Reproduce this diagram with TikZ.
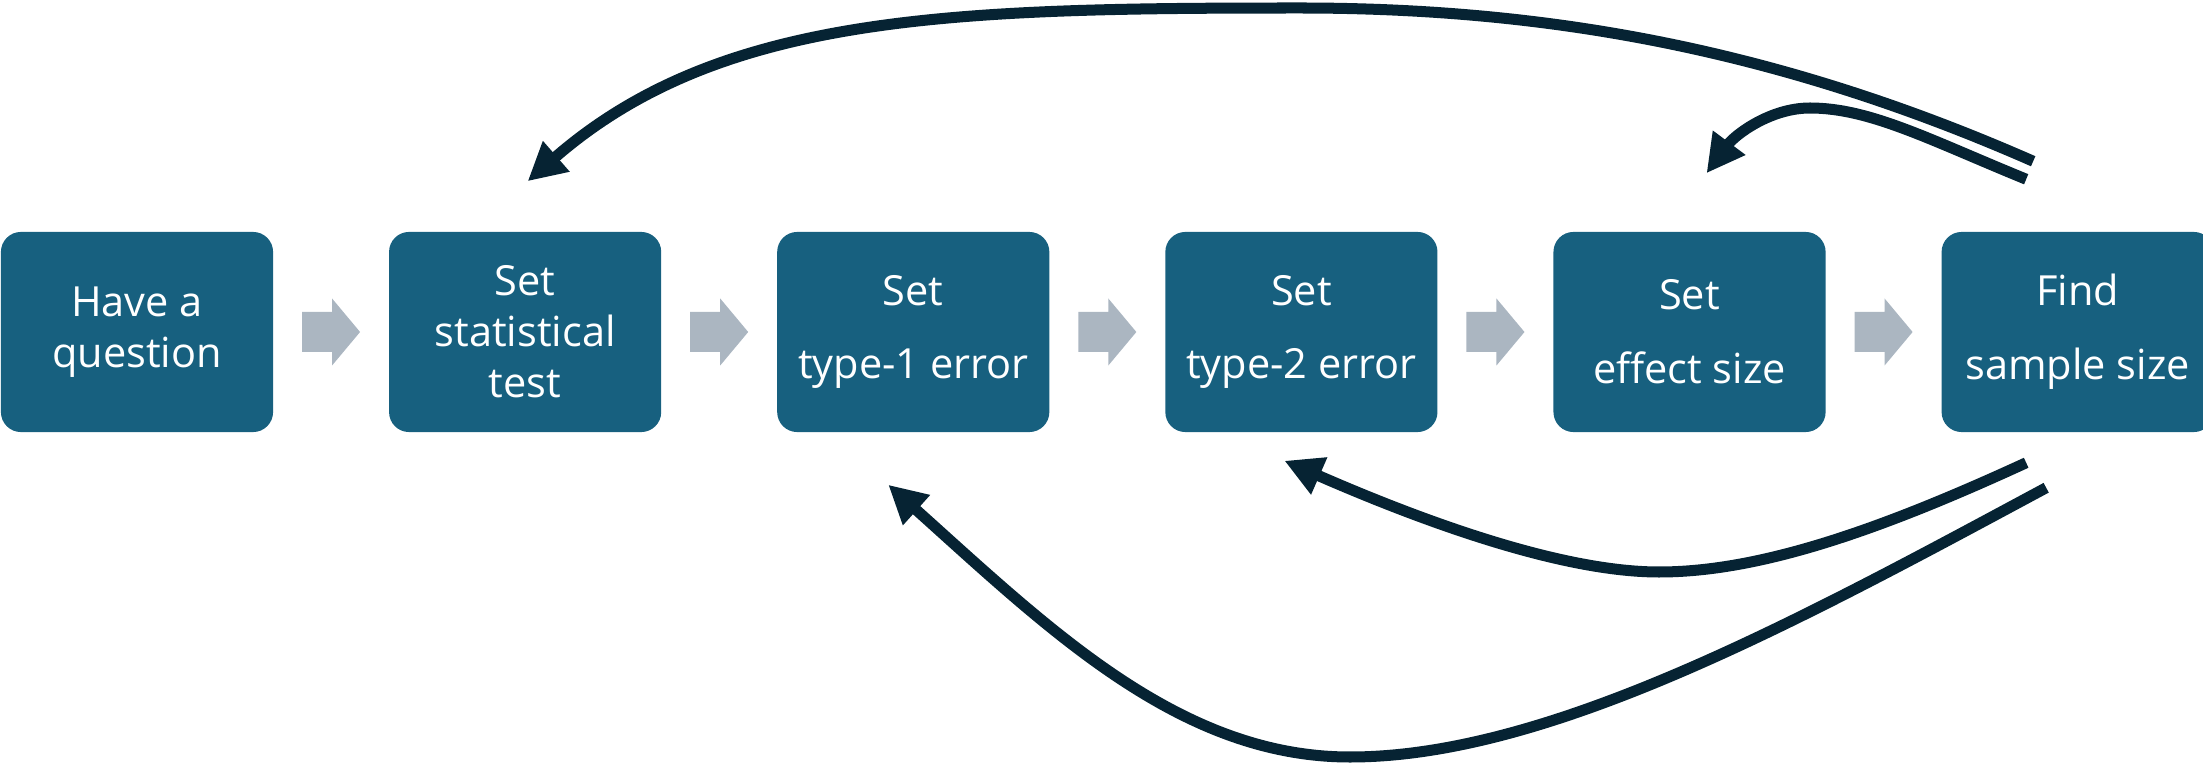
\documentclass[tikz,border=0pt]{standalone}
\usepackage{fontspec}
\setmainfont{Open Sans}
\usepackage{tikz}
\usetikzlibrary{positioning,calc,arrows.meta}

\definecolor{boxblue}{HTML}{17607F}
\definecolor{loopnavy}{HTML}{062333}
\definecolor{chevgray}{HTML}{ABB6C1}

\tikzset{
    stage/.style={rectangle, rounded corners=0.2cm, fill=boxblue, text=white, align=center,
        minimum width=2.72cm, minimum height=2cm, inner sep=0pt,
        font=\fontsize{11.8}{14.5}\selectfont},
    feedback/.style={draw=loopnavy, line width=0.11cm, -{Triangle[length=0.38cm,width=0.38cm]}},
    chevron/.style={fill=chevgray}
}

% grey block arrow in the gap between two stages
\newcommand{\gapArrow}[2]{\fill[chevron] ($(#1.east)!0.5!(#2.west)$) ++(-29,-20) -- ++(30,0) -- ++(0,-13.5) -- ++(28,33.5) -- ++(-28,33.5) -- ++(0,-13.5) -- ++(-30,0) -- cycle;}

\begin{document}
\begin{tikzpicture}[x=0.01cm, y=-0.01cm]
    \useasboundingbox (0,0) rectangle (2203,764);

    \node [stage] (question) at (137,332) {Have a\\question};
    \node [stage, right=1.145cm of question] (test) {Set\\statistical\\test};
    \node [stage, right=1.145cm of test] (alpha) {Set\\[6.5pt]type-1 error};
    \node [stage, right=1.145cm of alpha] (beta) {Set\\[6.5pt]type-2 error};
    \node [stage, right=1.145cm of beta] (effect) {Set\\[6.5pt]effect size};
    \node [stage, right=1.145cm of effect] (sample) {Find\\[6.5pt]sample size};

    \gapArrow{question}{test}
    \gapArrow{test}{alpha}
    \gapArrow{alpha}{beta}
    \gapArrow{beta}{effect}
    \gapArrow{effect}{sample}

    % loose ends of the feedback arrows
    \coordinate (aS) at ($(sample.north)+(-44.5,-70)$);
    \coordinate (aE) at ($(test.north)+(2.5,-50)$);
    \coordinate (bS) at ($(sample.north)+(-51.5,-52)$);
    \coordinate (bE) at ($(effect.north)+(17,-58)$);
    \coordinate (cS) at ($(sample.south)+(-51.5,30)$);
    \coordinate (cE) at ($(beta.south)+(-17,28)$);
    \coordinate (dS) at ($(sample.south)+(-31.5,55)$);
    \coordinate (dE) at ($(alpha.south)+(-25,52)$);

    \draw [feedback] (aS) .. controls (1780,50) and (1550,8) .. (1300,8) .. controls (950,8) and (720,14) .. (aE);
    \draw [feedback] (bS) .. controls (1930,140) and (1870,108) .. (1810,108) .. controls (1770,108) and (1735,135) .. (bE);
    \draw [feedback] (cS) .. controls (1880,530) and (1760,572) .. (1659,572) .. controls (1560,572) and (1420,520) .. (cE);
    \draw [feedback] (dS) .. controls (1800,620) and (1550,757) .. (1350,757) .. controls (1180,757) and (1050,630) .. (dE);
\end{tikzpicture}
\end{document}
